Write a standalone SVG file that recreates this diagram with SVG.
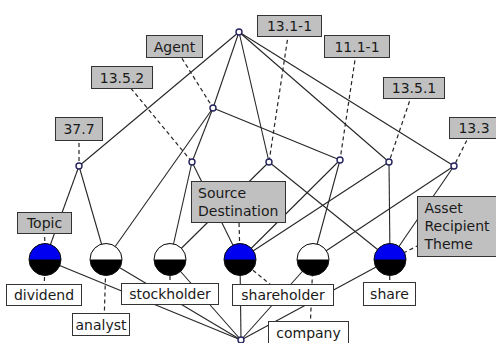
<svg xmlns="http://www.w3.org/2000/svg" width="496" height="343" viewBox="0 0 496 343">
  <style>
    .edge { stroke: #262626; stroke-width: 1.1; fill: none; }
    .lead { stroke: #262626; stroke-width: 1.2; stroke-dasharray: 4 3; fill: none; }
    .pt { fill: #fff; stroke: #23235f; stroke-width: 1.4; }
    .ring { fill: none; stroke: #111; stroke-width: 1; }
    .low { fill: #000; }
    .blue { fill: #0000f0; }
    .white { fill: #fff; }
    .attr { fill: #c0c0c0; stroke: #333; stroke-width: 1; }
    .obj { fill: #fff; stroke: #333; stroke-width: 1; }
    text { font-family: "DejaVu Sans", "Liberation Sans", sans-serif; font-size: 14px; fill: #1a1a1a; }
    .c { text-anchor: middle; }
  </style>

  <!-- lattice edges -->
  <g id="edges">
    <line class="edge" x1="239" y1="32" x2="79" y2="166"/>
    <line class="edge" x1="239" y1="32" x2="213" y2="108"/>
    <line class="edge" x1="239" y1="32" x2="269" y2="162"/>
    <line class="edge" x1="239" y1="32" x2="389" y2="162"/>
    <line class="edge" x1="239" y1="32" x2="454" y2="166"/>
    <line class="edge" x1="213" y1="108" x2="192" y2="162"/>
    <line class="edge" x1="213" y1="108" x2="340" y2="160"/>
    <line class="edge" x1="213" y1="108" x2="106" y2="259.5"/>
    <line class="edge" x1="79" y1="166" x2="45" y2="259.5"/>
    <line class="edge" x1="79" y1="166" x2="106" y2="259.5"/>
    <line class="edge" x1="192" y1="162" x2="170" y2="259.5"/>
    <line class="edge" x1="192" y1="162" x2="240" y2="259.5"/>
    <line class="edge" x1="269" y1="162" x2="170" y2="259.5"/>
    <line class="edge" x1="269" y1="162" x2="390" y2="259.5"/>
    <line class="edge" x1="340" y1="160" x2="240" y2="259.5"/>
    <line class="edge" x1="340" y1="160" x2="313" y2="259.5"/>
    <line class="edge" x1="389" y1="162" x2="240" y2="259.5"/>
    <line class="edge" x1="389" y1="162" x2="390" y2="259.5"/>
    <line class="edge" x1="454" y1="166" x2="313" y2="259.5"/>
    <line class="edge" x1="454" y1="166" x2="390" y2="259.5"/>
    <line class="edge" x1="45" y1="259.5" x2="241" y2="340"/>
    <line class="edge" x1="106" y1="259.5" x2="241" y2="340"/>
    <line class="edge" x1="170" y1="259.5" x2="241" y2="340"/>
    <line class="edge" x1="240" y1="259.5" x2="241" y2="340"/>
    <line class="edge" x1="313" y1="259.5" x2="241" y2="340"/>
    <line class="edge" x1="390" y1="259.5" x2="241" y2="340"/>
  </g>

  <!-- dashed leaders from labels to their concepts -->
  <g id="leaders">
    <line class="lead" x1="79" y1="129" x2="79" y2="166"/>
    <line class="lead" x1="122" y1="77.5" x2="192" y2="162"/>
    <line class="lead" x1="174.5" y1="46.5" x2="213" y2="108"/>
    <line class="lead" x1="289.5" y1="26" x2="269" y2="162"/>
    <line class="lead" x1="357" y1="46.5" x2="340" y2="160"/>
    <line class="lead" x1="414" y1="88" x2="389" y2="162"/>
    <line class="lead" x1="473" y1="128" x2="454" y2="166"/>
    <line class="lead" x1="44.5" y1="223" x2="45" y2="259.5"/>
    <line class="lead" x1="238.5" y1="202" x2="240" y2="259.5"/>
    <line class="lead" x1="457" y1="226.5" x2="390" y2="259.5"/>
    <line class="lead" x1="44" y1="295" x2="45" y2="259.5"/>
    <line class="lead" x1="104" y1="324.5" x2="106" y2="259.5"/>
    <line class="lead" x1="170" y1="294" x2="170" y2="259.5"/>
    <line class="lead" x1="283" y1="295" x2="240" y2="259.5"/>
    <line class="lead" x1="310" y1="332.5" x2="313" y2="259.5"/>
    <line class="lead" x1="389.5" y1="294" x2="390" y2="259.5"/>
  </g>

  <!-- small concept points -->
  <g id="top"><circle class="pt" cx="239" cy="32" r="3"/></g>
  <g id="n-agent"><circle class="pt" cx="213" cy="108" r="3"/></g>
  <g id="n-37-7"><circle class="pt" cx="79" cy="166" r="3"/></g>
  <g id="n-13-5-2"><circle class="pt" cx="192" cy="162" r="3"/></g>
  <g id="n-13-1-1"><circle class="pt" cx="269" cy="162" r="3"/></g>
  <g id="n-11-1-1"><circle class="pt" cx="340" cy="160" r="3"/></g>
  <g id="n-13-5-1"><circle class="pt" cx="389" cy="162" r="3"/></g>
  <g id="n-13-3"><circle class="pt" cx="454" cy="166" r="3"/></g>
  <g id="bottom"><circle class="pt" cx="241" cy="340" r="3"/></g>

  <!-- object concepts: half circles -->
  <g id="c-dividend">
    <circle class="low" cx="45" cy="259.5" r="16"/>
    <path class="blue" d="M29 259.5 A16 16 0 0 1 61 259.5 Z"/>
    <circle class="ring" cx="45" cy="259.5" r="16"/>
  </g>
  <g id="c-analyst">
    <circle class="low" cx="106" cy="259.5" r="16"/>
    <path class="white" d="M90 259.5 A16 16 0 0 1 122 259.5 Z"/>
    <circle class="ring" cx="106" cy="259.5" r="16"/>
  </g>
  <g id="c-stockholder">
    <circle class="low" cx="170" cy="259.5" r="16"/>
    <path class="white" d="M154 259.5 A16 16 0 0 1 186 259.5 Z"/>
    <circle class="ring" cx="170" cy="259.5" r="16"/>
  </g>
  <g id="c-shareholder">
    <circle class="low" cx="240" cy="259.5" r="16"/>
    <path class="blue" d="M224 259.5 A16 16 0 0 1 256 259.5 Z"/>
    <circle class="ring" cx="240" cy="259.5" r="16"/>
  </g>
  <g id="c-company">
    <circle class="low" cx="313" cy="259.5" r="16"/>
    <path class="white" d="M297 259.5 A16 16 0 0 1 329 259.5 Z"/>
    <circle class="ring" cx="313" cy="259.5" r="16"/>
  </g>
  <g id="c-share">
    <circle class="low" cx="390" cy="259.5" r="16"/>
    <path class="blue" d="M374 259.5 A16 16 0 0 1 406 259.5 Z"/>
    <circle class="ring" cx="390" cy="259.5" r="16"/>
  </g>

  <!-- attribute labels -->
  <g id="l-37-7"><rect class="attr" x="55.5" y="117.5" width="47" height="23"/><text class="c" x="79" y="134">37.7</text></g>
  <g id="l-13-5-2"><rect class="attr" x="91.5" y="66.5" width="61" height="22"/><text class="c" x="122" y="82.5">13.5.2</text></g>
  <g id="l-agent"><rect class="attr" x="146.5" y="35.5" width="56" height="22"/><text class="c" x="174.5" y="51.5">Agent</text></g>
  <g id="l-13-1-1"><rect class="attr" x="257.5" y="15.5" width="64" height="21"/><text class="c" x="289.5" y="31">13.1-1</text></g>
  <g id="l-11-1-1"><rect class="attr" x="324.5" y="35.5" width="65" height="22"/><text class="c" x="357" y="51.5">11.1-1</text></g>
  <g id="l-13-5-1"><rect class="attr" x="383.5" y="77.5" width="61" height="21"/><text class="c" x="414" y="93">13.5.1</text></g>
  <g id="l-13-3"><rect class="attr" x="449.5" y="117.5" width="48" height="21"/><text class="c" x="474" y="133">13.3</text></g>
  <g id="l-topic"><rect class="attr" x="17.5" y="212.5" width="54" height="21"/><text class="c" x="44.5" y="228">Topic</text></g>
  <g id="l-source">
    <rect class="attr" x="191.5" y="181.5" width="94" height="41"/>
    <text x="198" y="198">Source</text>
    <text x="198" y="216">Destination</text>
  </g>
  <g id="l-asset">
    <rect class="attr" x="417.5" y="196.5" width="80" height="60"/>
    <text x="424.5" y="213">Asset</text>
    <text x="424.5" y="231">Recipient</text>
    <text x="424.5" y="249">Theme</text>
  </g>

  <!-- object labels -->
  <g id="l-dividend"><rect class="obj" x="6.5" y="284.5" width="75" height="21"/><text class="c" x="44" y="300">dividend</text></g>
  <g id="l-analyst"><rect class="obj" x="72.5" y="313.5" width="57" height="22"/><text class="c" x="101" y="329.5">analyst</text></g>
  <g id="l-stockholder"><rect class="obj" x="121.5" y="283.5" width="97" height="21"/><text class="c" x="170" y="299">stockholder</text></g>
  <g id="l-shareholder"><rect class="obj" x="232.5" y="284.5" width="101" height="21"/><text class="c" x="283" y="300">shareholder</text></g>
  <g id="l-company"><rect class="obj" x="268.5" y="321.5" width="80" height="23"/><text class="c" x="308.5" y="337.5">company</text></g>
  <g id="l-share"><rect class="obj" x="363.5" y="282.5" width="52" height="23"/><text class="c" x="389.5" y="299">share</text></g>
</svg>
